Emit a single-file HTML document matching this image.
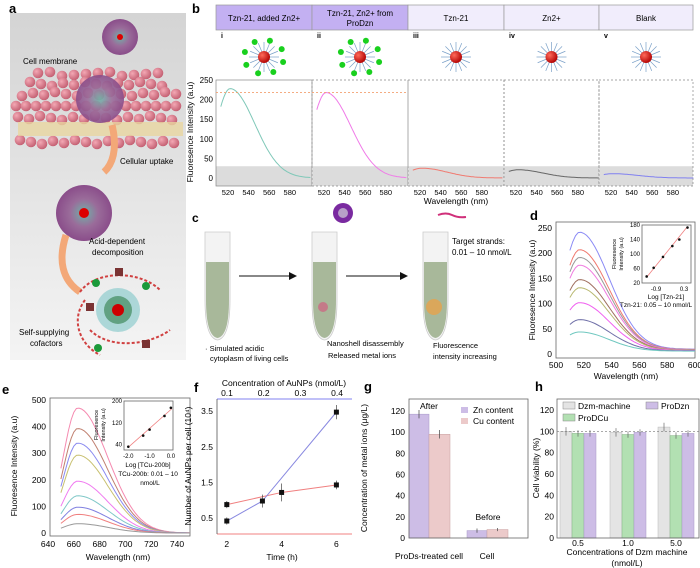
<!DOCTYPE html>
<html><head><meta charset="utf-8"><style>
html,body{margin:0;padding:0;background:#fff;}
svg{display:block;font-family:"Liberation Sans",sans-serif;}
</style></head><body>
<svg id="fig" width="700" height="568" viewBox="0 0 700 568" xmlns="http://www.w3.org/2000/svg">
<defs>
<linearGradient id="bgA" x1="0" y1="0" x2="0" y2="1"><stop offset="0" stop-color="#d4d4d4"/><stop offset="1" stop-color="#f4f4f4"/></linearGradient>
<radialGradient id="redS" cx="0.35" cy="0.35" r="0.7"><stop offset="0" stop-color="#ff6a5a"/><stop offset="1" stop-color="#b00000"/></radialGradient>
<radialGradient id="purS" cx="0.5" cy="0.5" r="0.5"><stop offset="0" stop-color="#6fb3a8"/><stop offset="0.5" stop-color="#9a6c9a"/><stop offset="1" stop-color="#8a4d8a"/></radialGradient>
<radialGradient id="pinkB" cx="0.35" cy="0.35" r="0.7"><stop offset="0" stop-color="#f3a8b4"/><stop offset="1" stop-color="#c25d70"/></radialGradient>
<marker id="arr" markerWidth="8" markerHeight="8" refX="7" refY="4" orient="auto"><path d="M0,0 L8,4 L0,8 z" fill="#111"/></marker>
</defs>

<g id="panelA">
<text x="9" y="13" font-size="13" font-weight="bold">a</text>
<rect x="10" y="13" width="176" height="347" fill="url(#bgA)"/>
<g id="membrane"></g>
<circle cx="120" cy="37" r="18" fill="url(#purS)"/>
<circle cx="120" cy="37" r="3" fill="#d00"/>
<circle cx="100" cy="99" r="24" fill="url(#purS)" opacity="0.9"/>
<circle cx="84" cy="213" r="28" fill="url(#purS)"/>
<circle cx="84" cy="213" r="5" fill="#d00"/>
<path d="M112,125 C118,150 112,165 104,172" stroke="#f3a878" stroke-width="7" fill="none"/>
<path d="M66,235 C58,260 62,280 80,292" stroke="#f3a878" stroke-width="7" fill="none"/>
<g>
<circle cx="118" cy="310" r="22" fill="#7fc6c8" opacity="0.6"/>
<circle cx="118" cy="310" r="14" fill="#2e7d4a" opacity="0.6"/>
<circle cx="118" cy="310" r="6" fill="#c00"/>
<path d="M80,292 C95,270 140,270 160,290 M90,330 C110,350 150,345 170,330 M85,300 C70,320 80,345 100,355" stroke="#d04040" stroke-width="2" fill="none" stroke-dasharray="3,2"/>
<rect x="115" y="268" width="8" height="8" fill="#7a3333"/><rect x="86" y="303" width="8" height="8" fill="#7a3333"/><rect x="142" y="340" width="8" height="8" fill="#7a3333"/>
<circle cx="96" cy="283" r="4" fill="#1b9a3a"/><circle cx="146" cy="286" r="4" fill="#1b9a3a"/><circle cx="98" cy="348" r="4" fill="#1b9a3a"/>
</g>
<text x="23" y="64" font-size="8">Cell membrane</text>
<text x="120" y="164" font-size="8">Cellular uptake</text>
<text x="89" y="244" font-size="8">Acid-dependent</text>
<text x="92" y="255" font-size="8">decomposition</text>
<text x="19" y="335" font-size="8">Self-supplying</text>
<text x="30" y="346" font-size="8">cofactors</text>
</g>

<g id="panelB">
<text x="192" y="13" font-size="13" font-weight="bold">b</text>
<g id="bHeaders"></g>
<g id="bPlot"></g>
<text transform="translate(193,132) rotate(-90)" font-size="8.5" text-anchor="middle">Fluoresence Intensity (a.u)</text>
<text x="456" y="204" font-size="8.5" text-anchor="middle">Wavelength (nm)</text>
</g>

<g id="panelC">
<text x="192" y="222" font-size="12" font-weight="bold">c</text>
<g id="tubes"></g>
<line x1="239" y1="276" x2="296" y2="276" stroke="#111" stroke-width="1" marker-end="url(#arr)"/>
<line x1="346" y1="276" x2="407" y2="276" stroke="#111" stroke-width="1" marker-end="url(#arr)"/>
<circle cx="343" cy="213" r="10" fill="#7a2aa0"/>
<circle cx="343" cy="213" r="5" fill="#b8a0c8"/>
<path d="M438,215 q8,-3 14,0 t14,2" stroke="#d0307a" stroke-width="2" fill="none"/>
<text x="452" y="244" font-size="8">Target strands:</text>
<text x="452" y="255" font-size="8">0.01 – 10 nmol/L</text>
<text x="205" y="351" font-size="7.5">· Simulated acidic</text>
<text x="210" y="361" font-size="7.5">cytoplasm of living cells</text>
<text x="327" y="346" font-size="7.5">Nanoshell disassembly</text>
<text x="328" y="358" font-size="7.5">Released metal ions</text>
<text x="433" y="348" font-size="7.5">Fluorescence</text>
<text x="433" y="359" font-size="7.5">intensity increasing</text>
</g>

<g id="panelD"></g>
<g id="panelE"></g>
<g id="panelF"></g>
<g id="panelG"></g>
<g id="panelH"></g>
</svg>

<script>
const bTitles = ["Tzn-21, added Zn2+", "Tzn-21, Zn2+ from", "Tzn-21", "Zn2+", "Blank"];
const bRoman = ["i", "ii", "iii", "iv", "v"];
const bPeaks = [228, 218, 25, 21, 11];
const bColors = ["#7fc8b8", "#f07ae8", "#f07a70", "#666666", "#8080f0"];
const bTicks = [0, 50, 100, 150, 200, 250];
const bXTicks = [520, 540, 560, 580];

const dPeaks = [232, 198, 183, 168, 140, 124, 95, 62, 38];
const dColors = ["#8a8af5", "#f07a70", "#999999", "#f07ae0", "#a07060", "#b8b870", "#f060f0", "#7070a8", "#70c8c0"];
const dYTicks = [0, 50, 100, 150, 200, 250];
const dXTicks = [500, 520, 540, 560, 580, 600];
const dInsetXs = [-1.3, -1.0, -0.6, -0.2, 0.1, 0.45];
const dInsetY = [38, 62, 92, 122, 140, 173];
const dInsetYTicks = [20, 60, 100, 140, 180];
const dInsetXTicks = [-0.9, 0.3];

const ePeaks = [470, 393, 338, 293, 195, 140, 97, 70, 35];
const eColors = ["#f58ab0", "#c08070", "#8a8af0", "#c8c070", "#f07af0", "#80c8c8", "#8080e0", "#f08080", "#999999"];
const eYTicks = [0, 100, 200, 300, 400, 500];
const eXTicks = [640, 660, 680, 700, 720, 740];
const eInsetX = [-2.0, -1.3, -1.0, -0.3, 0.0];
const eInsetY = [32, 73, 95, 145, 175];
const eInsetYTicks = [40, 120, 200];

const fTimesBlue = [2, 3.3, 6];
const fBlue = [0.42, 0.98, 3.47];
const fBlueErr = [0.1, 0.18, 0.2];
const fTimesRed = [2, 4, 6];
const fRed = [0.88, 1.22, 1.43];
const fRedErr = [0.1, 0.25, 0.12];
const fYTicks = [0.5, 1.5, 2.5, 3.5];
const fXTicks = [2, 4, 6];
const fTopTicks = [0.1, 0.2, 0.3, 0.4];

const gGroups = ["ProDs-treated cell", "Cell"];
const gZn = [117, 7];
const gCu = [98, 8];
const gZnErr = [4, 2];
const gCuErr = [4, 1.5];
const gYTicks = [0, 20, 40, 60, 80, 100, 120];

const hGroups = ["0.5", "1.0", "5.0"];
const hDzm = [100, 99, 104];
const hCu = [98, 97, 96];
const hZn = [98, 99, 98];
const hErr = [4, 3, 3];
const hYTicks = [0, 20, 40, 60, 80, 100, 120];

const NS = "http://www.w3.org/2000/svg";
function mk(tag, attrs, parent) {
  const el = document.createElementNS(NS, tag);
  for (const k in attrs) el.setAttribute(k, attrs[k]);
  parent.appendChild(el);
  return el;
}
function txt(s, attrs, parent) {
  const el = mk("text", attrs, parent);
  el.textContent = s;
  return el;
}
function spec(wl, pk, peakWl, wL, wR) {
  const w = wl < peakWl ? wL : wR;
  return pk * Math.exp(-Math.pow((wl - peakWl) / w, 2));
}
function frame(g, x0, y0, x1, y1, name) {
  const r = mk("rect", { x: x0, y: y0, width: x1 - x0, height: y1 - y0, fill: "none", stroke: "#666", "stroke-width": 0.8 }, g);
  
  
}

(function () {
  const g = document.getElementById("membrane");
  const rows = [[72, 38, 160, 12], [82, 30, 170, 11], [92, 22, 178, 11], [104, 16, 182, 10], [116, 18, 180, 11], [140, 20, 175, 11]];
  rows.forEach(r => {
    for (let x = r[1]; x <= r[2]; x += r[3]) {
      const el = mk("circle", { cx: x, cy: r[0] + ((x * 7) % 5), r: 5.3, fill: "url(#pinkB)" }, g);
      
      
    }
  });
  const t = mk("rect", { x: 18, y: 122, width: 165, height: 14, fill: "#e8d6a0", opacity: 0.8 }, g);
  
  
})();

(function () {
  const hdr = document.getElementById("bHeaders");
  const plot = document.getElementById("bPlot");
  const xs = [216, 312, 408, 504, 599, 693];
  const y0 = 178, ys = 98 / 250;
  const yB = v => y0 - v * ys;
  for (let i = 0; i < 5; i++) {
    const L = xs[i], W = xs[i + 1] - L;
    const h = mk("rect", { x: L, y: 5, width: W, height: 25, fill: i < 2 ? "#c3b0f2" : "#f1edfc", stroke: "#999", "stroke-width": 0.7 }, hdr);
    
    
    const t = txt(bTitles[i], { x: L + W / 2, y: i === 1 ? 16 : 21, "font-size": 8, "text-anchor": "middle" }, hdr);
    
    
    if (i === 1) {
      const t2 = txt("ProDzn", { x: L + W / 2, y: 26, "font-size": 8, "text-anchor": "middle" }, hdr);
      
      
    }
    const r = txt(bRoman[i], { x: L + 5, y: 38, "font-size": 7, "font-weight": "bold" }, hdr);
    
    
    const cx = L + W / 2, cy = 57;
    for (let a = 0; a < 16; a++) {
      const ang = a * Math.PI / 8;
      const s = mk("line", { x1: cx, y1: cy, x2: cx + Math.cos(ang) * 15, y2: cy + Math.sin(ang) * 15, stroke: "#7aa0c8", "stroke-width": 0.7 }, hdr);
      
      
    }
    const p = mk("circle", { cx: cx, cy: cy, r: 6, fill: "url(#redS)" }, hdr);
    
    
    if (i < 2) {
      for (let a = 0; a < 8; a++) {
        const ang = a * Math.PI / 4 + 0.3;
        const gd = mk("circle", { cx: cx + Math.cos(ang) * 20, cy: cy + Math.sin(ang) * 17, r: 3, fill: "#19d01e" }, hdr);
        
        
      }
    }
    const band = mk("rect", { x: L, y: yB(30), width: W, height: 186 - yB(30), fill: "#dcdcdc" }, plot);
    
    
    const box = mk("rect", { x: L, y: 80, width: W, height: 106, fill: "none", stroke: "#888", "stroke-width": 0.7, "stroke-dasharray": (i > 0 ? "2,2" : "none") }, plot);
    
    
    const xB = wl => L + 12 + (wl - 520) * 1.03;
    let d = "";
    for (let wl = 513; wl <= 600; wl += 1.5) d += (wl === 513 ? "M" : "L") + xB(wl).toFixed(1) + "," + yB(spec(wl, bPeaks[i], 522, 19, 34)).toFixed(1);
    const c = mk("path", { d: d, stroke: bColors[i], "stroke-width": 1, fill: "none" }, plot);
    
    
    bXTicks.forEach(v => {
      const tk = txt(v, { x: xB(v), y: 195, "font-size": 7.5, "text-anchor": "middle" }, plot);
      
      
    });
  }
  const ref = mk("line", { x1: 216, x2: 408, y1: yB(218), y2: yB(218), stroke: "#f3a070", "stroke-dasharray": "2,2", "stroke-width": 0.8 }, plot);
  
  
  bTicks.forEach(v => {
    const t = txt(v, { x: 213, y: yB(v) + 3, "font-size": 8, "text-anchor": "end" }, plot);
    
    
  });
})();

(function () {
  const g = document.getElementById("tubes");
  [205, 312, 423].forEach((x, i) => {
    const t = mk("path", { d: `M${x},232 L${x + 25},232 L${x + 25},300 Q${x + 25},338 ${x + 12.5},340 Q${x},338 ${x},300 Z`, fill: "#f3f3f3", stroke: "#ccc", "stroke-width": 0.8 }, g);
    
    
    const l = mk("path", { d: `M${x + 1},262 L${x + 24},262 L${x + 24},300 Q${x + 24},336 ${x + 12.5},338 Q${x + 1},336 ${x + 1},300 Z`, fill: "#a8b89a" }, g);
    
    
    if (i > 0) {
      const dots = mk("circle", { cx: x + 11, cy: 307, r: i === 2 ? 8 : 5, fill: i === 2 ? "#f0a040" : "#d06080", opacity: 0.7 }, g);
      
      
    }
  });
})();

(function () {
  const g = document.getElementById("panelD");
  const X0 = 556, X1 = 695, Y0 = 354, Ytop = 222;
  const x = wl => X0 + (wl - 500) * 1.39;
  const y = v => Y0 - v * (126 / 250);
  const lb = txt("d", { x: 530, y: 220, "font-size": 13, "font-weight": "bold" }, g);
  
  
  frame(g, X0, Ytop, X1, 358, "d-plot-frame");
  dPeaks.forEach((pk, i) => {
    let d = "";
    for (let wl = 510; wl <= 600; wl += 2) d += (wl === 510 ? "M" : "L") + x(wl).toFixed(1) + "," + y(spec(wl, pk, 517, 17, 30) + 5 + pk * 0.02).toFixed(1);
    const c = mk("path", { d: d, stroke: dColors[i], "stroke-width": 1, fill: "none" }, g);
    
    
  });
  dYTicks.forEach(v => {
    const t = txt(v, { x: X0 - 4, y: y(v) + 3, "font-size": 8.5, "text-anchor": "end" }, g);
    
    
  });
  dXTicks.forEach(v => {
    const t = txt(v, { x: x(v), y: 368, "font-size": 8.5, "text-anchor": "middle" }, g);
    
    
  });
  const yt = txt("Fluoresence Intensity (a.u)", { transform: "translate(535,290) rotate(-90)", "font-size": 8.5, "text-anchor": "middle" }, g);
  
  
  const xt = txt("Wavelength (nm)", { x: 626, y: 379, "font-size": 8.5, "text-anchor": "middle" }, g);
  
  
  const iX0 = 642, iX1 = 691, iY0 = 283, iY1 = 225;
  const ix = v => iX0 + (v + 1.5) / 2.1 * (iX1 - iX0);
  const iy = v => iY0 - (v - 20) / 160 * (iY0 - iY1);
  frame(g, iX0, iY1, iX1, iY0, "d-inset-frame");
  const fit = mk("line", { x1: ix(-1.3), y1: iy(36), x2: ix(0.45), y2: iy(176), stroke: "#f08080", "stroke-width": 0.8 }, g);
  
  
  dInsetXs.forEach((v, i) => {
    const p = mk("circle", { cx: ix(v), cy: iy(dInsetY[i]), r: 1.3, fill: "#111" }, g);
    
    
  });
  dInsetYTicks.forEach(v => {
    const t = txt(v, { x: iX0 - 2, y: iy(v) + 2, "font-size": 6, "text-anchor": "end" }, g);
    
    
  });
  dInsetXTicks.forEach(v => {
    const t = txt(v, { x: ix(v), y: 291, "font-size": 6, "text-anchor": "middle" }, g);
    
    
  });
  const a = txt("Fluoresence", { transform: "translate(616,254) rotate(-90)", "font-size": 5.5, "text-anchor": "middle" }, g);
  
  
  const a2 = txt("Intensity (a.u)", { transform: "translate(623,254) rotate(-90)", "font-size": 5.5, "text-anchor": "middle" }, g);
  
  
  const b = txt("Log [Tzn-21]", { x: 666, y: 299, "font-size": 6.5, "text-anchor": "middle" }, g);
  
  
  const c2 = txt("Tzn-21: 0.05 – 10 nmol/L", { x: 656, y: 307, "font-size": 6.5, "text-anchor": "middle" }, g);
  
  
})();

(function () {
  const g = document.getElementById("panelE");
  const X0 = 50, X1 = 190, Y0 = 533, Ytop = 398;
  const x = wl => 48 + (wl - 640) * 1.29;
  const y = v => Y0 - v * (133 / 500);
  const l = txt("e", { x: 2, y: 394, "font-size": 13, "font-weight": "bold" }, g);
  
  
  frame(g, X0, Ytop, X1, 536, "e-plot-frame");
  ePeaks.forEach((pk, i) => {
    let d = "";
    for (let wl = 650; wl <= 750; wl += 2) d += (wl === 650 ? "M" : "L") + x(wl).toFixed(1) + "," + y(spec(wl, pk, 663, 16, 33)).toFixed(1);
    const c = mk("path", { d: d, stroke: eColors[i], "stroke-width": 1, fill: "none" }, g);
    
    
  });
  eYTicks.forEach(v => {
    const t = txt(v, { x: X0 - 4, y: y(v) + 3, "font-size": 8.5, "text-anchor": "end" }, g);
    
    
  });
  eXTicks.forEach(v => {
    const t = txt(v, { x: x(v), y: 547, "font-size": 8.5, "text-anchor": "middle" }, g);
    
    
  });
  const yt = txt("Fluoresence Intensity (a.u)", { transform: "translate(17,466) rotate(-90)", "font-size": 8.5, "text-anchor": "middle" }, g);
  
  
  const xt = txt("Wavelength (nm)", { x: 118, y: 560, "font-size": 8.5, "text-anchor": "middle" }, g);
  
  
  const iX0 = 124, iX1 = 173, iY0 = 450, iY1 = 401;
  const ix = v => iX0 + (v + 2.2) / 2.3 * (iX1 - iX0);
  const iy = v => iY0 - (v - 20) / 180 * (iY0 - iY1);
  frame(g, iX0, iY1, iX1, iY0, "e-inset-frame");
  const fit = mk("line", { x1: ix(-2.0), y1: iy(30), x2: ix(0.05), y2: iy(172), stroke: "#f08080", "stroke-width": 0.8 }, g);
  
  
  eInsetX.forEach((v, i) => {
    const p = mk("circle", { cx: ix(v), cy: iy(eInsetY[i]), r: 1.3, fill: "#111" }, g);
    
    
  });
  eInsetYTicks.forEach(v => {
    const t = txt(v, { x: iX0 - 2, y: iy(v) + 2, "font-size": 6, "text-anchor": "end" }, g);
    
    
  });
  [-2.0, -1.0, 0.0].forEach(v => {
    const t = txt(v.toFixed(1), { x: ix(v), y: 458, "font-size": 6, "text-anchor": "middle" }, g);
    
    
  });
  const a = txt("Fluoresence", { transform: "translate(98,425) rotate(-90)", "font-size": 5.5, "text-anchor": "middle" }, g);
  
  
  const a2 = txt("Intensity (a.u)", { transform: "translate(105,425) rotate(-90)", "font-size": 5.5, "text-anchor": "middle" }, g);
  
  
  const n1 = txt("Log [TCu-200b]", { x: 148, y: 467, "font-size": 6.5, "text-anchor": "middle" }, g);
  
  
  const n2 = txt("TCu-200b: 0.01 – 10", { x: 148, y: 476, "font-size": 6.5, "text-anchor": "middle" }, g);
  
  
  const n3 = txt("nmol/L", { x: 150, y: 485, "font-size": 6.5, "text-anchor": "middle" }, g);
  
  
})();

(function () {
  const g = document.getElementById("panelF");
  const X0 = 217, X1 = 352, Y0 = 534, Ytop = 399;
  const x = t => 172 + t * 27.4;
  const y = v => 536 - v * 35.7;
  const l = txt("f", { x: 194, y: 392, "font-size": 13, "font-weight": "bold" }, g);
  
  
  const ax1 = mk("line", { x1: X0, y1: Ytop, x2: X1, y2: Ytop, stroke: "#8080f0", "stroke-width": 1 }, g);
  
  
  const ax2 = mk("line", { x1: X0, y1: Y0, x2: X1, y2: Y0, stroke: "#f08080", "stroke-width": 1 }, g);
  
  
  const ax3 = mk("line", { x1: X0, y1: Ytop, x2: X0, y2: Y0, stroke: "#555", "stroke-width": 0.8 }, g);
  
  
  function series(ts, vs, es, color, nm) {
    let d = "";
    ts.forEach((t, i) => d += (i ? "L" : "M") + x(t) + "," + y(vs[i]));
    const p = mk("path", { d: d, stroke: color, "stroke-width": 1, fill: "none" }, g);
    
    
    ts.forEach((t, i) => {
      const e = mk("line", { x1: x(t), x2: x(t), y1: y(vs[i] - es[i]), y2: y(vs[i] + es[i]), stroke: "#444", "stroke-width": 0.7 }, g);
      
      
      const m = mk("rect", { x: x(t) - 2.5, y: y(vs[i]) - 2.5, width: 5, height: 5, fill: "#111" }, g);
      
      
    });
  }
  series(fTimesRed, fRed, fRedErr, "#f08080", "f-time-series");
  series(fTimesBlue, fBlue, fBlueErr, "#8888e0", "f-concentration-series");
  fYTicks.forEach(v => {
    const t = txt(v.toFixed(1), { x: X0 - 4, y: y(v) + 3, "font-size": 8.5, "text-anchor": "end" }, g);
    
    
  });
  fXTicks.forEach(v => {
    const t = txt(v, { x: x(v), y: 547, "font-size": 8.5, "text-anchor": "middle" }, g);
    
    
  });
  fTopTicks.forEach((v, i) => {
    const t = txt(v.toFixed(1), { x: 227 + i * 36.7, y: 396, "font-size": 8.5, "text-anchor": "middle" }, g);
    
    
  });
  const tt = txt("Concentration of AuNPs (nmol/L)", { x: 284, y: 386, "font-size": 8.5, "text-anchor": "middle" }, g);
  
  
  const yt = txt("Number of AuNPs per cell (10⁴)", { transform: "translate(191,466) rotate(-90)", "font-size": 8.5, "text-anchor": "middle" }, g);
  
  
  const xt = txt("Time (h)", { x: 282, y: 560, "font-size": 8.5, "text-anchor": "middle" }, g);
  
  
})();

(function () {
  const g = document.getElementById("panelG");
  const X0 = 409, X1 = 528, Y0 = 538, Ytop = 399;
  const y = v => Y0 - v * (127 / 120);
  const l = txt("g", { x: 364, y: 391, "font-size": 13, "font-weight": "bold" }, g);
  
  
  const gx = [409, 467];
  gGroups.forEach((nm, i) => {
    const b1 = mk("rect", { x: gx[i], y: y(gZn[i]), width: 20, height: Y0 - y(gZn[i]), fill: "#cdbde6", stroke: "#a898c8", "stroke-width": 0.5 }, g);
    
    
    const b2 = mk("rect", { x: gx[i] + 20, y: y(gCu[i]), width: 21, height: Y0 - y(gCu[i]), fill: "#eccaca", stroke: "#c8a0a0", "stroke-width": 0.5 }, g);
    
    
    [[gx[i] + 10, gZn[i], gZnErr[i]], [gx[i] + 30.5, gCu[i], gCuErr[i]]].forEach(e => {
      const el = mk("line", { x1: e[0], x2: e[0], y1: y(e[1] - e[2]), y2: y(e[1] + e[2]), stroke: "#444", "stroke-width": 0.7 }, g);
      
      
    });
    const t = txt(nm, { x: i === 0 ? gx[i] + 20 : gx[i] + 20, y: 559, "font-size": 8.5, "text-anchor": "middle" }, g);
    
    
  });
  frame(g, X0, Ytop, X1, Y0, "g-plot-frame");
  gYTicks.forEach(v => {
    const t = txt(v, { x: X0 - 4, y: y(v) + 3, "font-size": 8.5, "text-anchor": "end" }, g);
    
    
  });
  const a = txt("After", { x: 429, y: 409, "font-size": 8.5, "text-anchor": "middle" }, g);
  
  
  const b = txt("Before", { x: 488, y: 520, "font-size": 8.5, "text-anchor": "middle" }, g);
  
  
  const s1 = mk("rect", { x: 461, y: 407, width: 7, height: 6, fill: "#cdbde6" }, g);
  
  
  const l1 = txt("Zn content", { x: 473, y: 413, "font-size": 8.5 }, g);
  
  
  const s2 = mk("rect", { x: 461, y: 418, width: 7, height: 6, fill: "#eccaca" }, g);
  
  
  const l2 = txt("Cu content", { x: 473, y: 424, "font-size": 8.5 }, g);
  
  
  const yt = txt("Concentration of metal ions (μg/L)", { transform: "translate(367,468) rotate(-90)", "font-size": 8.5, "text-anchor": "middle" }, g);
  
  
})();

(function () {
  const g = document.getElementById("panelH");
  const X0 = 557, X1 = 699, Y0 = 538, Ytop = 399;
  const y = v => Y0 - v * (128 / 120);
  const l = txt("h", { x: 535, y: 391, "font-size": 13, "font-weight": "bold" }, g);
  
  
  const cx = [578, 628, 676];
  const bw = 12;
  hGroups.forEach((nm, i) => {
    const sets = [[hDzm, "#e4e4e4", "#b8b8b8", "h-dzm-bar"], [hCu, "#b2e0b2", "#80b080", "h-procu-bar"], [hZn, "#cdbde6", "#a898c8", "h-prozn-bar"]];
    sets.forEach((s, j) => {
      const bx = cx[i] - 1.5 * bw + j * bw;
      const b = mk("rect", { x: bx, y: y(s[0][i]), width: bw, height: Y0 - y(s[0][i]), fill: s[1], stroke: s[2], "stroke-width": 0.5 }, g);
      
      
      const e = mk("line", { x1: bx + bw / 2, x2: bx + bw / 2, y1: y(s[0][i] - hErr[j]), y2: y(s[0][i] + hErr[j]), stroke: "#555", "stroke-width": 0.6 }, g);
      
      
    });
    const t = txt(nm, { x: cx[i], y: 546, "font-size": 8.5, "text-anchor": "middle" }, g);
    
    
  });
  frame(g, X0, Ytop, X1, Y0, "h-plot-frame");
  const ref = mk("line", { x1: X0, x2: X1, y1: y(100), y2: y(100), stroke: "#777", "stroke-dasharray": "2,2", "stroke-width": 0.7 }, g);
  
  
  hYTicks.forEach(v => {
    const t = txt(v, { x: X0 - 3, y: y(v) + 3, "font-size": 8.5, "text-anchor": "end" }, g);
    
    
  });
  const legs = [["Dzm-machine", "#e4e4e4", 563, 407], ["ProDzn", "#cdbde6", 646, 407], ["ProDCu", "#b2e0b2", 563, 419]];
  legs.forEach(L => {
    const s = mk("rect", { x: L[2], y: L[3] - 5, width: 12, height: 7, fill: L[1], stroke: "#888", "stroke-width": 0.5 }, g);
    
    
    const t = txt(L[0], { x: L[2] + 15, y: L[3] + 2, "font-size": 8.5 }, g);
    
    
  });
  const yt = txt("Cell viability (%)", { transform: "translate(539,468) rotate(-90)", "font-size": 8.5, "text-anchor": "middle" }, g);
  
  
  const xt = txt("Concentrations of Dzm machine", { x: 627, y: 555, "font-size": 8.5, "text-anchor": "middle" }, g);
  
  
  const xt2 = txt("(nmol/L)", { x: 627, y: 566, "font-size": 8.5, "text-anchor": "middle" }, g);
  
  
})();
</script>
</body></html>
